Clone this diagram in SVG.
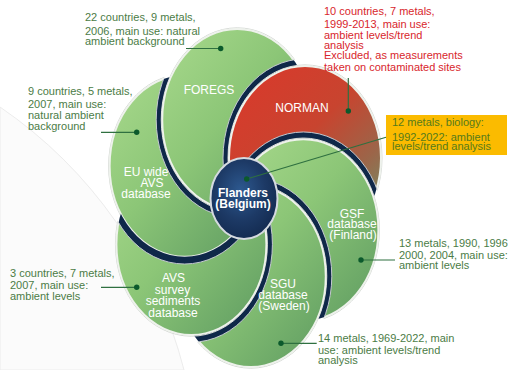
<svg xmlns="http://www.w3.org/2000/svg" width="510" height="370" viewBox="0 0 510 370">
  <style>
    .band { fill: #0f2849; }
    .edge { fill: none; stroke: #c3c8cf; stroke-width: 1; vector-effect: non-scaling-stroke; }
    .petal { stroke: #eef2ec; stroke-width: 2; vector-effect: non-scaling-stroke; }
    .rim { fill: none; stroke: #d3d7d3; stroke-width: 1; vector-effect: non-scaling-stroke; }
    .green { fill: url(#gGreen); }
    .red { fill: url(#gRed); }
    .lbl { font-family: "Liberation Sans", Arial, sans-serif; font-size: 12px; fill: #ffffff; text-anchor: middle; }
    .hubtxt { font-weight: bold; }
    .note { font-family: "Liberation Sans", Arial, sans-serif; font-size: 11px; fill: #4b7c46; }
    .alert { fill: #d8262c; }
    .boxtxt { fill: #557a1c; }
    .lead { stroke: #2f7040; stroke-width: 1.2; fill: none; }
    .dot { fill: #0b5a2c; }
  </style>
  <defs>
    <linearGradient id="gGreen" x1="0" y1="0" x2="1" y2="1">
      <stop offset="0" stop-color="#a8d98c"/>
      <stop offset="0.45" stop-color="#8cc677"/>
      <stop offset="1" stop-color="#5e9b61"/>
    </linearGradient>
    <linearGradient id="gRed" x1="0.15" y1="0.1" x2="0.85" y2="0.95">
      <stop offset="0" stop-color="#d63b2c"/>
      <stop offset="0.4" stop-color="#c8442f"/>
      <stop offset="0.72" stop-color="#9c6549"/>
      <stop offset="1" stop-color="#6f9468"/>
    </linearGradient>
    <radialGradient id="gHub" cx="0.45" cy="0.4" r="0.6">
      <stop offset="0" stop-color="#2d5990"/>
      <stop offset="0.6" stop-color="#1d3a66"/>
      <stop offset="1" stop-color="#142c52"/>
    </radialGradient>

    <!-- petal disks, local frame centred on the hub -->
    <clipPath id="disk-eu" clipPathUnits="userSpaceOnUse"><circle cx="-59.38" cy="-26.44" r="75"/></clipPath>
    <clipPath id="disk-fg" clipPathUnits="userSpaceOnUse"><circle cx="-6.79" cy="-64.64" r="75"/></clipPath>
    <clipPath id="disk-no" clipPathUnits="userSpaceOnUse"><circle cx="61" cy="-33" r="76"/></clipPath>
    <clipPath id="disk-gs" clipPathUnits="userSpaceOnUse"><circle cx="59.38" cy="26.44" r="75"/></clipPath>
    <clipPath id="disk-sg" clipPathUnits="userSpaceOnUse"><circle cx="6.79" cy="64.64" r="75"/></clipPath>
    <clipPath id="disk-av" clipPathUnits="userSpaceOnUse"><circle cx="-52.59" cy="38.21" r="75"/></clipPath>

    <!-- cut-outs: the following petal (R) and the following petal with its dark rim (W) -->
    <mask id="cutR-fg" maskUnits="userSpaceOnUse" x="-200" y="-200" width="400" height="400"><rect x="-200" y="-200" width="400" height="400" fill="#fff"/><circle cx="-6.79" cy="-64.64" r="75" fill="#000"/></mask>
    <mask id="cutW-fg" maskUnits="userSpaceOnUse" x="-200" y="-200" width="400" height="400"><rect x="-200" y="-200" width="400" height="400" fill="#fff"/><circle cx="-6.79" cy="-64.64" r="81" fill="#000"/></mask>
    <mask id="cutR-no" maskUnits="userSpaceOnUse" x="-200" y="-200" width="400" height="400"><rect x="-200" y="-200" width="400" height="400" fill="#fff"/><circle cx="61" cy="-33" r="76" fill="#000"/></mask>
    <mask id="cutW-no" maskUnits="userSpaceOnUse" x="-200" y="-200" width="400" height="400"><rect x="-200" y="-200" width="400" height="400" fill="#fff"/><circle cx="61" cy="-33" r="82" fill="#000"/></mask>
    <mask id="cutR-gs" maskUnits="userSpaceOnUse" x="-200" y="-200" width="400" height="400"><rect x="-200" y="-200" width="400" height="400" fill="#fff"/><circle cx="59.38" cy="26.44" r="75" fill="#000"/></mask>
    <mask id="cutW-gs" maskUnits="userSpaceOnUse" x="-200" y="-200" width="400" height="400"><rect x="-200" y="-200" width="400" height="400" fill="#fff"/><circle cx="59.38" cy="26.44" r="81" fill="#000"/></mask>
    <mask id="cutR-sg" maskUnits="userSpaceOnUse" x="-200" y="-200" width="400" height="400"><rect x="-200" y="-200" width="400" height="400" fill="#fff"/><circle cx="6.79" cy="64.64" r="75" fill="#000"/></mask>
    <mask id="cutW-sg" maskUnits="userSpaceOnUse" x="-200" y="-200" width="400" height="400"><rect x="-200" y="-200" width="400" height="400" fill="#fff"/><circle cx="6.79" cy="64.64" r="81" fill="#000"/></mask>
    <mask id="cutR-av" maskUnits="userSpaceOnUse" x="-200" y="-200" width="400" height="400"><rect x="-200" y="-200" width="400" height="400" fill="#fff"/><circle cx="-52.59" cy="38.21" r="75" fill="#000"/></mask>
    <mask id="cutW-av" maskUnits="userSpaceOnUse" x="-200" y="-200" width="400" height="400"><rect x="-200" y="-200" width="400" height="400" fill="#fff"/><circle cx="-52.59" cy="38.21" r="81" fill="#000"/></mask>
    <mask id="cutR-eu" maskUnits="userSpaceOnUse" x="-200" y="-200" width="400" height="400"><rect x="-200" y="-200" width="400" height="400" fill="#fff"/><circle cx="-59.38" cy="-26.44" r="75" fill="#000"/></mask>
    <mask id="cutW-eu" maskUnits="userSpaceOnUse" x="-200" y="-200" width="400" height="400"><rect x="-200" y="-200" width="400" height="400" fill="#fff"/><circle cx="-59.38" cy="-26.44" r="81" fill="#000"/></mask>
  </defs>

  <rect width="510" height="370" fill="#ffffff"/>
  <!-- faint backdrop disc on the left -->
  <path d="M0 107 A456 456 0 0 1 184 370 L0 370 Z" fill="#fbfbfb" stroke="#ececec" stroke-width="1"/>

  <!-- EU wide AVS database -->
  <g id="eu-avs">
    <g transform="translate(244 198) scale(1 1.21)">
      <circle class="band" cx="-59.38" cy="-26.44" r="75" mask="url(#cutR-fg)"/>
      <circle class="rim" cx="-59.38" cy="-26.44" r="76" mask="url(#cutW-fg)"/>
      <circle class="petal green" cx="-59.38" cy="-26.44" r="75" mask="url(#cutW-fg)"/>
      <circle class="edge" cx="-6.79" cy="-64.64" r="81" clip-path="url(#disk-eu)"/>
    </g>
    <text class="lbl"><tspan x="146" y="176">EU wide</tspan><tspan x="152" y="187">AVS</tspan><tspan x="146" y="198">database</tspan></text>
    <text class="note"><tspan x="28" y="95">9 countries, 5 metals,</tspan><tspan x="28" y="108.3">2007, main use:</tspan><tspan x="28" y="119">natural ambient</tspan><tspan x="28" y="129.7">background</tspan></text>
  </g>

  <!-- FOREGS -->
  <g id="foregs">
    <g transform="translate(244 198) scale(1 1.21)">
      <circle class="band" cx="-6.79" cy="-64.64" r="75" mask="url(#cutR-no)"/>
      <circle class="rim" cx="-6.79" cy="-64.64" r="76" mask="url(#cutW-no)"/>
      <circle class="petal green" cx="-6.79" cy="-64.64" r="75" mask="url(#cutW-no)"/>
      <circle class="edge" cx="61" cy="-33" r="82" clip-path="url(#disk-fg)"/>
    </g>
    <text class="lbl" x="209" y="94">FOREGS</text>
    <text class="note"><tspan x="85" y="20.7">22 countries, 9 metals,</tspan><tspan x="85" y="35.3">2006, main use: natural</tspan><tspan x="85" y="45">ambient background</tspan></text>
  </g>

  <!-- NORMAN -->
  <g id="norman">
    <g transform="translate(244 198) scale(1 1.21)">
      <circle class="band" cx="61" cy="-33" r="76" mask="url(#cutR-gs)"/>
      <circle class="rim" cx="61" cy="-33" r="77" mask="url(#cutW-gs)"/>
      <circle class="petal red" cx="61" cy="-33" r="76" mask="url(#cutW-gs)"/>
      <circle class="edge" cx="59.38" cy="26.44" r="81" clip-path="url(#disk-no)"/>
    </g>
    <text class="lbl" x="302" y="112">NORMAN</text>
    <text class="note alert"><tspan x="324" y="15">10 countries, 7 metals,</tspan><tspan x="324" y="28.3">1999-2013, main use:</tspan><tspan x="324" y="38.8">ambient levels/trend</tspan><tspan x="324" y="48.7">analysis</tspan><tspan x="324" y="59.3">Excluded, as measurements</tspan><tspan x="324" y="70.5">taken on contaminated sites</tspan></text>
  </g>

  <!-- GSF database (Finland) -->
  <g id="gsf">
    <g transform="translate(244 198) scale(1 1.21)">
      <circle class="band" cx="59.38" cy="26.44" r="75" mask="url(#cutR-sg)"/>
      <circle class="rim" cx="59.38" cy="26.44" r="76" mask="url(#cutW-sg)"/>
      <circle class="petal green" cx="59.38" cy="26.44" r="75" mask="url(#cutW-sg)"/>
      <circle class="edge" cx="6.79" cy="64.64" r="81" clip-path="url(#disk-gs)"/>
    </g>
    <text class="lbl"><tspan x="352" y="217.5">GSF</tspan><tspan x="352" y="228">database</tspan><tspan x="353" y="239">(Finland)</tspan></text>
    <text class="note"><tspan x="399" y="246.7">13 metals, 1990, 1996</tspan><tspan x="399" y="258.5">2000, 2004, main use:</tspan><tspan x="399" y="269">ambient levels</tspan></text>
  </g>

  <!-- SGU database (Sweden) -->
  <g id="sgu">
    <g transform="translate(244 198) scale(1 1.21)">
      <circle class="band" cx="6.79" cy="64.64" r="75" mask="url(#cutR-av)"/>
      <circle class="rim" cx="6.79" cy="64.64" r="76" mask="url(#cutW-av)"/>
      <circle class="petal green" cx="6.79" cy="64.64" r="75" mask="url(#cutW-av)"/>
      <circle class="edge" cx="-52.59" cy="38.21" r="81" clip-path="url(#disk-sg)"/>
    </g>
    <text class="lbl"><tspan x="283" y="288">SGU</tspan><tspan x="283" y="298.5">database</tspan><tspan x="284" y="309.5">(Sweden)</tspan></text>
    <text class="note"><tspan x="318" y="342.3">14 metals, 1969-2022, main</tspan><tspan x="318" y="354.3">use: ambient levels/trend</tspan><tspan x="318" y="364">analysis</tspan></text>
  </g>

  <!-- AVS survey sediments database -->
  <g id="avs-survey">
    <g transform="translate(244 198) scale(1 1.21)">
      <circle class="band" cx="-52.59" cy="38.21" r="75" mask="url(#cutR-eu)"/>
      <circle class="rim" cx="-52.59" cy="38.21" r="76" mask="url(#cutW-eu)"/>
      <circle class="petal green" cx="-52.59" cy="38.21" r="75" mask="url(#cutW-eu)"/>
      <circle class="edge" cx="-59.38" cy="-26.44" r="81" clip-path="url(#disk-av)"/>
    </g>
    <text class="lbl"><tspan x="173.5" y="282">AVS</tspan><tspan x="172.5" y="293.5">survey</tspan><tspan x="173" y="305">sediments</tspan><tspan x="173" y="316.5">database</tspan></text>
    <text class="note"><tspan x="10" y="276.7">3 countries, 7 metals,</tspan><tspan x="10" y="289.3">2007, main use:</tspan><tspan x="10" y="300">ambient levels</tspan></text>
  </g>

  <!-- hub -->
  <g id="flanders">
    <ellipse cx="244" cy="198.5" rx="33.5" ry="40.5" fill="url(#gHub)" stroke="#d5dae0" stroke-width="2"/>
    <text class="lbl hubtxt"><tspan x="243" y="197">Flanders</tspan><tspan x="243" y="207.5">(Belgium)</tspan></text>
  </g>

  <!-- biology note -->
  <g id="biology">
    <rect x="386" y="115" width="121" height="40" fill="#fbbb00"/>
    <text class="note boxtxt"><tspan x="392" y="125.7">12 metals, biology:</tspan><tspan x="392" y="140.7">1992-2022: ambient</tspan><tspan x="392" y="150">levels/trend analysis</tspan></text>
  </g>

  <!-- leader lines -->
  <g id="connectors">
    <line class="lead" x1="186" y1="48.5" x2="220.7" y2="48.5"/>
    <circle class="dot" cx="220.7" cy="48.5" r="2.7"/>
    <line class="lead" x1="101" y1="132.3" x2="136.7" y2="132.3"/>
    <circle class="dot" cx="136.7" cy="132.3" r="2.7"/>
    <line class="lead" x1="348.3" y1="78" x2="348.3" y2="111"/>
    <circle class="dot" cx="348.3" cy="111" r="2.7"/>
    <line class="lead" x1="246.7" y1="179" x2="386" y2="137.3"/>
    <circle class="dot" cx="246.7" cy="179" r="2.7"/>
    <line class="lead" x1="361" y1="260" x2="395" y2="260"/>
    <circle class="dot" cx="361" cy="260" r="2.7"/>
    <line class="lead" x1="281" y1="343.3" x2="316.7" y2="343.3"/>
    <circle class="dot" cx="281" cy="343.3" r="2.7"/>
    <line class="lead" x1="101" y1="287.3" x2="136.7" y2="287.3"/>
    <circle class="dot" cx="136.7" cy="287.3" r="2.7"/>
  </g>
</svg>
